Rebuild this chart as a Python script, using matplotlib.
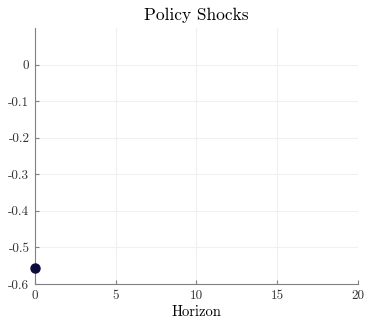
import matplotlib
matplotlib.use("Agg")
import matplotlib.pyplot as plt
import numpy as np

plt.rcParams['font.family'] = 'serif'
plt.rcParams['font.serif'] = ['cmr10']
plt.rcParams['mathtext.fontset'] = 'cm'
plt.rcParams['axes.unicode_minus'] = False
plt.rcParams['axes.formatter.use_mathtext'] = False

# data
horizon = [0]
shock = [-0.557]
xticks = [0, 5, 10, 15, 20]
yticks = [0, -0.1, -0.2, -0.3, -0.4, -0.5, -0.6]
yticklabels = ['0', '-0.1', '-0.2', '-0.3', '-0.4', '-0.5', '-0.6']

fig = plt.figure(figsize=(3.66, 3.2), dpi=100)
ax = fig.add_axes([0.0956, 0.1125, 0.8824, 0.8])

ax.plot(horizon, shock, 'o', color='#0b0b3b', markersize=6.5, clip_on=False, zorder=5)

ax.set_xlim(0, 20)
ax.set_ylim(-0.6, 0.1)
ax.set_xticks(xticks)
ax.set_yticks(yticks)
ax.set_yticklabels(yticklabels)
ax.grid(True, color='#f0f0f0', linewidth=0.8)
ax.set_axisbelow(True)

for s in ['top', 'right']:
    ax.spines[s].set_visible(False)
for s in ['left', 'bottom']:
    ax.spines[s].set_color('#808080')
    ax.spines[s].set_linewidth(0.8)
ax.tick_params(direction='in', colors='#808080', labelcolor='#333333',
               labelsize=9.5, length=3, width=0.8, pad=4)

ax.set_title("Policy Shocks", fontsize=12.5, pad=6)
ax.set_xlabel("Horizon", fontsize=10.5, labelpad=2.5)

fig.savefig("out.png", dpi=100)
